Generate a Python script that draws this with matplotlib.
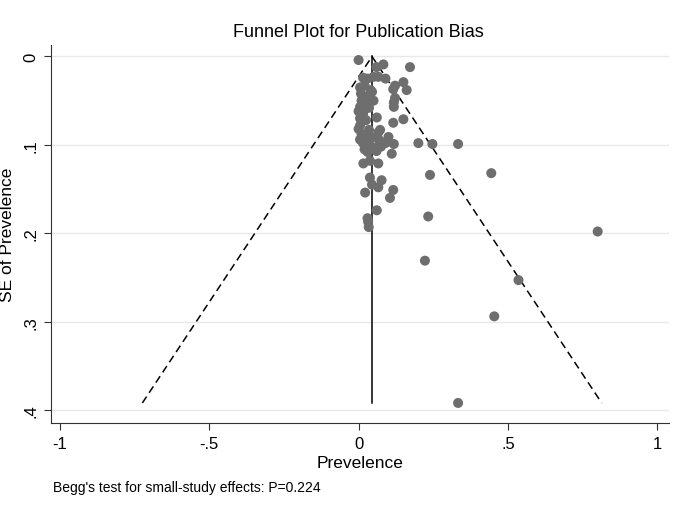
import numpy as np
import matplotlib
matplotlib.use("Agg")
import matplotlib.pyplot as plt

plt.rcParams["font.family"] = ["Liberation Sans", "DejaVu Sans"]

# study estimates (prevalence) and their standard errors
prev = [0.000, 0.083, 0.172, 0.060, 0.015, 0.030, 0.050, 0.066, 0.090, 0.150,
        0.122, 0.161, 0.116, 0.005, 0.020, 0.040, 0.008, 0.030, 0.045, 0.010,
        0.025, 0.050, 0.122, 0.118, 0.118, 0.005, 0.020, 0.035, 0.015, 0.000,
        0.061, 0.150, 0.116, 0.005, 0.025, 0.005, 0.000, 0.035, 0.072, 0.066,
        0.010, 0.025, 0.005, 0.045, 0.100, 0.090, 0.118, 0.200, 0.247, 0.333,
        0.070, 0.015, 0.035, 0.050, 0.020, 0.030, 0.060, 0.075, 0.111, 0.016,
        0.038, 0.066, 0.444, 0.239, 0.038, 0.077, 0.045, 0.066, 0.116, 0.022,
        0.105, 0.061, 0.233, 0.030, 0.032, 0.034, 0.800, 0.222, 0.535, 0.454,
        0.333]
se = [0.004, 0.009, 0.012, 0.012, 0.024, 0.025, 0.023, 0.023, 0.025, 0.029,
      0.033, 0.038, 0.037, 0.035, 0.033, 0.038, 0.042, 0.045, 0.040, 0.050,
      0.052, 0.050, 0.047, 0.052, 0.057, 0.057, 0.060, 0.058, 0.065, 0.062,
      0.069, 0.071, 0.075, 0.070, 0.072, 0.078, 0.082, 0.083, 0.083, 0.086,
      0.088, 0.091, 0.094, 0.092, 0.091, 0.098, 0.099, 0.098, 0.099, 0.099,
      0.095, 0.098, 0.100, 0.103, 0.105, 0.108, 0.107, 0.102, 0.110, 0.121,
      0.118, 0.121, 0.132, 0.134, 0.137, 0.140, 0.145, 0.148, 0.151, 0.154,
      0.160, 0.174, 0.181, 0.183, 0.187, 0.193, 0.198, 0.231, 0.253, 0.294,
      0.392]

pooled = 0.045
se_max = 0.392
x_ticks = [-1, -0.5, 0, 0.5, 1]
x_ticklabels = ["-1", "-.5", "0", ".5", "1"]
y_ticks = [0, 0.1, 0.2, 0.3, 0.4]
y_ticklabels = ["0", ".1", ".2", ".3", ".4"]

fig = plt.figure(figsize=(6.88, 5.10), dpi=100)
ax = fig.add_axes([0.0737, 0.1686, 0.8993, 0.7412])

for y in y_ticks:
    ax.axhline(y, color="#e8e8e8", lw=1.0, zorder=0)

# pseudo 95% limits and pooled estimate
ax.plot([pooled - 1.96 * se_max, pooled, pooled + 1.96 * se_max],
        [se_max, 0, se_max], color="black", lw=1.1, ls=(0, (5, 3)), zorder=2)
ax.plot([pooled, pooled], [0, se_max], color="black", lw=1.1, zorder=2)
ax.scatter(prev, se, s=52, color="#6e6e6e", edgecolors="none", zorder=3)

ax.set_xlim(-1.03, 1.04)
ax.set_ylim(0.4147, -0.013)
ax.set_xticks(x_ticks)
ax.set_xticklabels(x_ticklabels, fontsize=12)
ax.set_yticks(y_ticks)
ax.set_yticklabels(y_ticklabels, fontsize=12, rotation=90, va="center")
ax.tick_params(length=5, width=0.8, color="#333333", pad=4)

for s in ("top", "right"):
    ax.spines[s].set_visible(False)
for s in ("left", "bottom"):
    ax.spines[s].set_color("#333333")
    ax.spines[s].set_linewidth(0.8)

ax.set_xlabel("Prevelence", fontsize=12.5, labelpad=3)
ax.set_ylabel("SE of Prevelence", fontsize=12.5, labelpad=6)
fig.text(0.521, 0.937, "Funnel Plot for Publication Bias", fontsize=13,
         ha="center", va="center")
fig.text(0.077, 0.043, "Begg's test for small-study effects: P=0.224",
         fontsize=10, ha="left", va="center")

fig.savefig("out.png", dpi=100)
